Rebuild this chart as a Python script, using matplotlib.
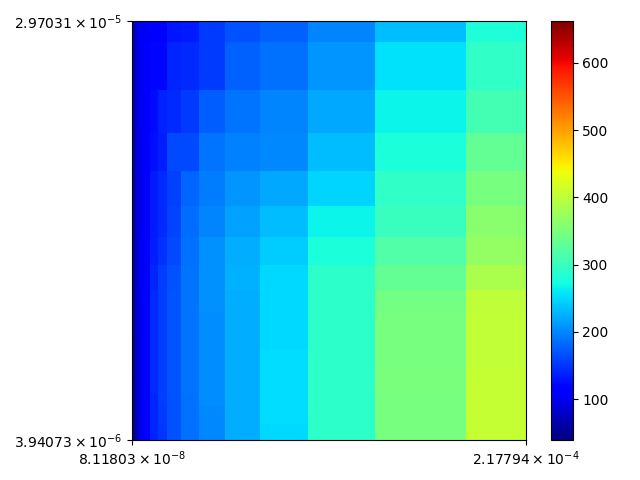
import numpy as np
import matplotlib
matplotlib.use("Agg")
import matplotlib.pyplot as plt
from matplotlib.ticker import NullLocator

x_edges = [8.11803e-8, 8.45e-8, 8.80e-8, 9.15e-8, 9.86e-8, 1.053e-7, 1.164e-7, 1.367e-7,
           1.637e-7, 2.167e-7, 3.108e-7, 5.232e-7, 1.055e-6, 2.761e-6, 1.057e-5, 6.545e-5, 2.17794e-4]
# y edges, top to bottom
y_edges = [2.97031e-5, 2.685e-5, 2.130e-5, 1.731e-5, 1.442e-5, 1.217e-5, 1.048e-5, 9.162e-6,
           8.120e-6, 7.304e-6, 6.633e-6, 6.081e-6, 5.630e-6, 5.262e-6, 4.943e-6, 4.665e-6,
           4.445e-6, 4.257e-6, 4.076e-6, 3.94073e-6]

# each column listed top to bottom
col01 = [70, 68, 66, 64, 62, 60, 58, 56, 54, 52, 50, 49, 48, 47, 46, 45, 44, 43, 42]
col02 = [80, 78, 76, 74, 72, 72, 70, 70, 68, 66, 66, 64, 64, 62, 62, 60, 60, 58, 58]
col03 = [90, 88, 86, 86, 84, 84, 82, 82, 80, 80, 78, 78, 76, 76, 74, 74, 72, 72, 72]
col04 = [98, 97, 96, 95, 94, 94, 94, 93, 92, 92, 92, 91, 91, 90, 90, 90, 89, 89, 88]
col05 = [103, 104, 104, 105, 105, 105, 106, 106, 107, 107, 107, 107, 107, 107, 106, 106, 106, 105, 105]
col06 = [105, 108, 110, 110, 110, 111, 112, 113, 115, 115, 116, 116, 116, 116, 116, 115, 115, 115, 115]
col07 = [112, 120, 123, 126, 132, 132, 135, 141, 144, 144, 144, 143, 142, 142, 141, 140, 140, 140, 138]
col08 = [116, 122, 138, 135, 144, 144, 147, 156, 156, 156, 155, 155, 155, 154, 154, 153, 152, 150, 150]
col09 = [130, 141, 144, 163, 157, 160, 163, 166, 170, 170, 170, 170, 170, 169, 168, 168, 167, 166, 166]
col10 = [132, 144, 153, 163, 180, 184, 187, 190, 188, 188, 188, 188, 188, 188, 187, 187, 187, 187, 187]
col11 = [153, 153, 175, 190, 193, 199, 205, 205, 205, 204, 204, 204, 203, 203, 203, 202, 202, 202, 202]
col12 = [168, 178, 190, 196, 208, 217, 224, 225, 224, 224, 224, 224, 223, 223, 223, 222, 222, 222, 222]
col13 = [178, 187, 199, 202, 220, 232, 242, 250, 251, 251, 251, 252, 252, 252, 252, 252, 252, 251, 251]
col14 = [199, 208, 220, 232, 248, 266, 280, 291, 291, 291, 292, 292, 292, 292, 291, 291, 291, 291, 291]
col15 = [232, 254, 268, 280, 294, 302, 317, 332, 344, 346, 347, 348, 349, 349, 348, 348, 348, 348, 348]
col16 = [282, 294, 309, 332, 347, 362, 370, 385, 400, 403, 404, 404, 405, 405, 405, 405, 405, 405, 405]

columns = [col01, col02, col03, col04, col05, col06, col07, col08,
           col09, col10, col11, col12, col13, col14, col15, col16]
values = np.column_stack(columns)

vmin, vmax = 39.5, 662.0
x_ticks = [8.11803e-8, 2.17794e-4]
x_labels = [r"$8.11803\times10^{-8}$", r"$2.17794\times10^{-4}$"]
y_ticks = [3.94073e-6, 2.97031e-5]
y_labels = [r"$3.94073\times10^{-6}$", r"$2.97031\times10^{-5}$"]
cbar_ticks = [100, 200, 300, 400, 500, 600]

fig = plt.figure(figsize=(6.4, 4.8), dpi=100)
ax = fig.add_axes([131.7 / 640, 40.0 / 480, 394.3 / 640, 419.0 / 480])
cax = fig.add_axes([551.0 / 640, 40.0 / 480, 21.5 / 640, 419.0 / 480])

mesh = ax.pcolormesh(x_edges, y_edges, values, cmap="jet", vmin=vmin, vmax=vmax,
                     shading="flat", linewidth=0, antialiased=False)
ax.set_xscale("log")
ax.set_yscale("log")
ax.set_xlim(x_edges[0], x_edges[-1])
ax.set_ylim(y_edges[-1], y_edges[0])
ax.set_xticks(x_ticks, x_labels)
ax.set_yticks(y_ticks, y_labels)
ax.xaxis.set_minor_locator(NullLocator())
ax.yaxis.set_minor_locator(NullLocator())

cbar = fig.colorbar(mesh, cax=cax)
cbar.set_ticks(cbar_ticks)

fig.savefig("out.png", dpi=100)
